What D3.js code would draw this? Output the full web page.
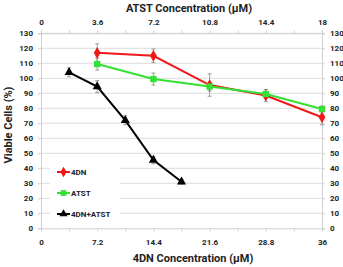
<!DOCTYPE html>
<html>
<head>
<meta charset="utf-8">
<script src="https://cdn.jsdelivr.net/npm/d3@7"></script>
<style>
  body { margin: 0; background: #fff; }
  svg text { font-family: Roboto, "Open Sans", sans-serif; font-weight: 700; fill: #222; }
</style>
</head>
<body>
<div id="chart"></div>
<script>
// 4DN concentration (bottom axis) for each series point
var conc4DN = [7.2, 14.4, 21.6, 28.8, 36];
var concATST = [3.6, 7.2, 10.8, 14.4, 18];      // top axis
var concCombo = [3.6, 7.2, 10.8, 14.4, 18];     // 4DN+ATST on bottom axis

var val4DN = [117, 115, 95.5, 88.5, 74];
var err4DN = [6, 4.5, 7.5, 4, 5];
var valATST = [109.5, 99.5, 94.5, 89.5, 79.5];
var errATST = [4, 4, 3, 3, 2];
var valCombo = [104, 94.5, 72, 45.5, 31];
var errCombo = [3, 4, 3, 2.5, 1.5];

var bottomTicks = [0, 7.2, 14.4, 21.6, 28.8, 36];
var topTicks = [0, 3.6, 7.2, 10.8, 14.4, 18];
var yTicks = [0, 10, 20, 30, 40, 50, 60, 70, 80, 90, 100, 110, 120, 130];

var W = 343, H = 267;
var svg = d3.select("#chart").append("svg").attr("width", W).attr("height", H);

var x = d3.scaleLinear().domain([0, 36]).range([41, 322]);
var xTop = d3.scaleLinear().domain([0, 18]).range([41, 322]);
var y = d3.scaleLinear().domain([0, 130]).range([228.3, 33.3]);

// grid
svg.append("g").selectAll("line").data(yTicks.slice(1)).enter().append("line")
    .attr("x1", x(0)).attr("x2", x(36))
    .attr("y1", function(d) { return y(d); }).attr("y2", function(d) { return y(d); })
    .attr("stroke", "#dcdcdc").attr("stroke-width", 1);

// axes
var gx = svg.append("g").attr("transform", "translate(0," + y(0) + ")")
    .call(d3.axisBottom(x).tickValues(d3.range(0, 36.01, 3.6)).tickSize(3).tickFormat(function(d) {
        return bottomTicks.some(function(t) { return Math.abs(t - d) < 1e-6; }) ? d3.format("")(+d.toFixed(1)) : "";
    }));
var gt = svg.append("g").attr("transform", "translate(0," + y(130) + ")")
    .call(d3.axisTop(xTop).tickValues(d3.range(0, 18.01, 1.8)).tickSize(3).tickFormat(function(d) {
        return topTicks.some(function(t) { return Math.abs(t - d) < 1e-6; }) ? d3.format("")(+d.toFixed(1)) : "";
    }));
var gl = svg.append("g").attr("transform", "translate(" + x(0) + ",0)")
    .call(d3.axisLeft(y).tickValues(yTicks).tickSize(3));
var gr = svg.append("g").attr("transform", "translate(" + x(36) + ",0)")
    .call(d3.axisRight(y).tickValues(yTicks).tickSize(3));

[gx, gt, gl, gr].forEach(function(g) {
    g.attr("font-family", null).attr("font-size", null);
    g.selectAll("path").attr("stroke", "#cfcfcf");
    g.selectAll("line").attr("stroke", "#cfcfcf");
    g.selectAll("text").attr("font-size", 8).attr("fill", "#111").attr("font-weight", 700);
});
gx.selectAll("text").attr("dy", "1.3em");
gt.selectAll("text").attr("dy", "-0.3em");
gl.selectAll("text").attr("dx", "-2");
gr.selectAll("text").attr("dx", "2");

// legend box (white, hides grid)
svg.append("rect").attr("x", 50).attr("y", 163).attr("width", 70).attr("height", 60).attr("fill", "#fff");

var series = [
    {name: "4DN", xs: conc4DN, sc: x, vals: val4DN, errs: err4DN, color: "#f01818", shape: d3.symbolDiamond, size: 40},
    {name: "ATST", xs: concATST, sc: xTop, vals: valATST, errs: errATST, color: "#33e033", shape: d3.symbolSquare, size: 40},
    {name: "4DN+ATST", xs: concCombo, sc: x, vals: valCombo, errs: errCombo, color: "#000", shape: d3.symbolTriangle, size: 36}
];

series.forEach(function(s) {
    var pts = s.vals.map(function(v, i) { return {x: s.sc(s.xs[i]), v: v, e: s.errs[i]}; });
    var eb = svg.append("g").attr("stroke", "#888").attr("stroke-width", 0.8);
    pts.forEach(function(p) {
        eb.append("line").attr("x1", p.x).attr("x2", p.x).attr("y1", y(p.v - p.e)).attr("y2", y(p.v + p.e));
        eb.append("line").attr("x1", p.x - 2).attr("x2", p.x + 2).attr("y1", y(p.v - p.e)).attr("y2", y(p.v - p.e));
        eb.append("line").attr("x1", p.x - 2).attr("x2", p.x + 2).attr("y1", y(p.v + p.e)).attr("y2", y(p.v + p.e));
    });
});

series.forEach(function(s) {
    var pts = s.vals.map(function(v, i) { return [s.sc(s.xs[i]), y(v)]; });
    svg.append("path").attr("d", d3.line()(pts)).attr("fill", "none")
        .attr("stroke", s.color).attr("stroke-width", 2);
    svg.append("g").selectAll("path").data(pts).enter().append("path")
        .attr("transform", function(d) { return "translate(" + d[0] + "," + d[1] + ")"; })
        .attr("d", d3.symbol().type(s.shape).size(s.size))
        .attr("fill", s.color);
});

// legend
var leg = svg.append("g");
series.forEach(function(s, i) {
    var ly = 172 + i * 21;
    leg.append("line").attr("x1", 57).attr("x2", 70).attr("y1", ly).attr("y2", ly)
        .attr("stroke", s.color).attr("stroke-width", 2);
    leg.append("path").attr("transform", "translate(63.5," + ly + ")")
        .attr("d", d3.symbol().type(s.shape).size(s.size * 0.8)).attr("fill", s.color);
    leg.append("text").attr("x", 71).attr("y", ly + 3).attr("font-size", 8).text(s.name);
});

// titles
svg.append("text").attr("x", 189).attr("y", 12).attr("text-anchor", "middle")
    .attr("font-size", 11).text("ATST Concentration (μM)");
svg.append("text").attr("x", 193).attr("y", 262).attr("text-anchor", "middle")
    .attr("font-size", 11).text("4DN Concentration (μM)");
svg.append("text").attr("transform", "translate(12,125) rotate(-90)").attr("text-anchor", "middle")
    .attr("font-size", 11).text("Viable Cells (%)");
</script>
</body>
</html>
